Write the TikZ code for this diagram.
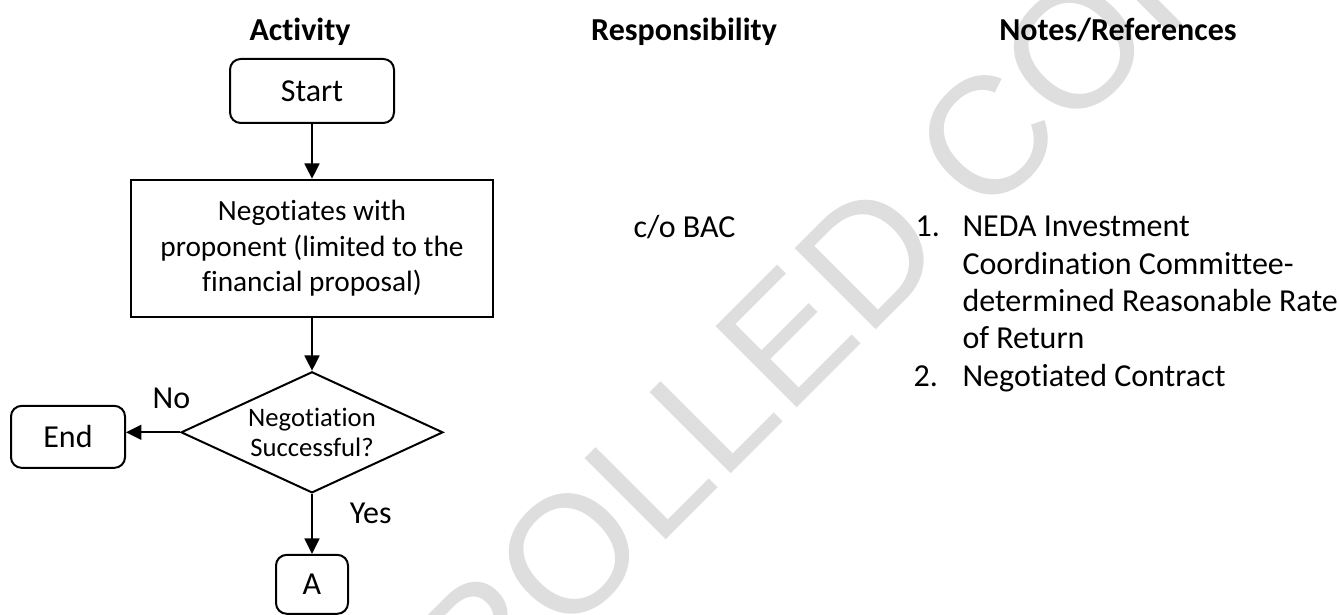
\documentclass[tikz,border=0pt]{standalone}
\usepackage{fontspec}
\setmainfont{Carlito}[Ligatures=NoCommon]
\newfontfamily\wmfont{Liberation Sans}
\usetikzlibrary{shapes.geometric}
\usetikzlibrary{positioning}
\usetikzlibrary{arrows.meta}
\tikzset{
    node distance=59pt,
    every node/.append style={
        font=\fontsize{12}{14}\selectfont
    },
    terminal/.style={
        draw,
        line width=0.75pt,
        rounded corners=4pt,
        inner sep=0pt
    },
    process/.style={
        draw,
        line width=0.75pt,
        minimum width=136pt,
        minimum height=51.4pt,
        align=center,
        font=\fontsize{11}{13.2}\selectfont
    },
    decision/.style={
        draw,
        diamond,
        aspect=2.16,
        inner sep=0pt,
        line width=0.75pt,
        minimum width=98.25pt,
        minimum height=45.4pt,
        align=center,
        font=\fontsize{10}{11.4}\selectfont
    },
    heading/.style={
        anchor=base,
        font=\fontsize{12}{14}\selectfont\bfseries
    },
    plaintext/.style={
        anchor=base west,
        inner sep=0pt,
        align=left
    },
    watermark/.style={
        text=black!13,
        rotate=45,
        font=\fontsize{62.6}{62.6}\wmfont
    },
    every edge/.append style={
        draw,
        -{Triangle[length=5.8pt, width=5.6pt]},
        line width=0.75pt
    }
}

\begin{document}
\begin{tikzpicture}[x=0.375pt, y=-0.375pt]
            \useasboundingbox (0,0) rectangle (1339,615);
            \begin{scope}
                \clip (0,0) rectangle (1339,615);
                \node[watermark] (wmark) at (606,518) {UNCONTROLLED COPY};
            \end{scope}

            \node[heading] (act) at (300,41) {Activity};
            \node[heading] (resp) at (684,41) {Responsibility};
            \node[heading] (notes) at (1118,41) {Notes/References};

            \node[terminal, minimum width=61.5pt, minimum height=24pt] (start) at (312,91) {Start};
            \node[process, below of = start] (nego) {Negotiates with\\proponent (limited to the\\financial proposal)};
            \node[decision, below of = nego, yshift=-10pt] (succ) {Negotiation\\Successful?};
            \node[terminal, minimum width=27pt, minimum height=22.1pt, below of = succ, yshift=2pt] (conn) {A};
            \node[terminal, minimum width=42.75pt, minimum height=23.25pt, left of = succ, xshift=-32.5pt, yshift=-1.7pt] (stop) {End};

            \draw (start) edge (nego);
            \draw (nego) edge (succ);
            \draw (succ.west) edge node[above=5pt, pos=0.16] {No} (succ.west -| stop.east);
            \draw (succ) edge node[right=10.5pt, pos=0.32] {Yes} (conn);

            \node[plaintext] (bac) at (633,238) {c/o BAC};
            \node[plaintext] (num1) at (915,237) {1.};
            \node[plaintext] (ref1) at (962,349) {NEDA Investment\\Coordination Committee-\\determined Reasonable Rate\\of Return};
            \node[plaintext] (num2) at (913,387) {2.};
            \node[plaintext] (ref2) at (962,387) {Negotiated Contract};
        \end{tikzpicture}
\end{document}
